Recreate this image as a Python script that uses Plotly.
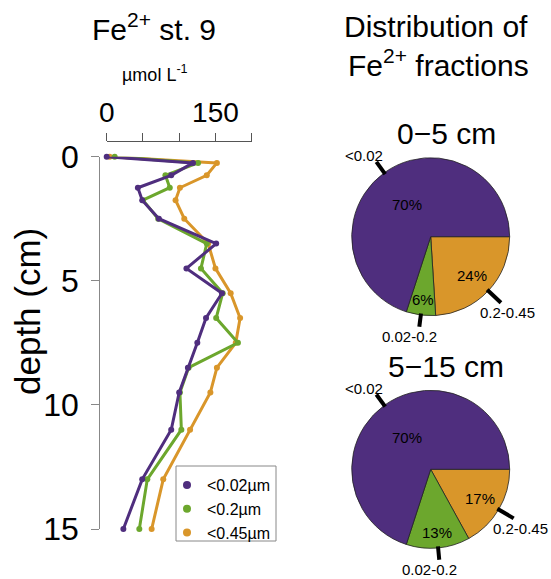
import math
import plotly.graph_objects as go

# ---- Fe2+ depth profile, station 9 -------------------------------------
depth_cm = [0, 0.25, 0.75, 1.25, 1.75, 2.5, 3.5, 4.5, 5.5, 6.5, 7.5, 8.5, 9.5, 11, 13, 15]
fe_lt_002 = [0, 119, 89, 43, 49, 72, 151, 110, 159, 137, 125, 112, 100, 89, 49, 23]
fe_lt_02 = [11, 126, 81, 87, 50, 71, 138, 130, 160, 151, 181, 113, 101, 103, 56, 45]
fe_lt_045 = [4, 152, 138, 101, 95, 107, 140, 150, 171, 184, 178, 152, 143, 115, 78, 62]

series_names = ["<0.02µm", "<0.2µm", "<0.45µm"]

# ---- fraction distribution (percent) ------------------------------------
fraction_labels = ["<0.02", "0.02-0.2", "0.2-0.45"]
pie_0_5 = [70, 6, 24]
pie_5_15 = [70, 13, 17]
pie_titles = ["0\u22125 cm", "5\u221215 cm"]

x_tick_vals = [0, 150]
x_minor_ticks = [50, 100, 200]
y_tick_vals = [0, 5, 10, 15]

PURPLE = "#4F2E7E"
GREEN = "#6CA72D"
ORANGE = "#D9962A"
COLORS = [PURPLE, GREEN, ORANGE]
FONT = "Liberation Sans, Arial, Helvetica, sans-serif"

W, H = 551, 579


def px(x):
    return x / W


def py(y):
    return 1 - y / H


fig = go.Figure()

# profiles: orange first so purple ends on top
for vals, col in [(fe_lt_045, ORANGE), (fe_lt_02, GREEN), (fe_lt_002, PURPLE)]:
    fig.add_trace(go.Scatter(
        x=vals, y=depth_cm, mode="lines+markers",
        line=dict(color=col, width=3), marker=dict(color=col, size=6),
        showlegend=False, cliponaxis=False, xaxis="x", yaxis="y",
    ))

# legend entries (dots only)
for name, col in zip(series_names, COLORS):
    fig.add_trace(go.Scatter(
        x=[None], y=[None], mode="markers", name=name,
        marker=dict(color=col, size=8), xaxis="x", yaxis="y",
    ))

# pies: first fraction runs counter-clockwise from 3 o'clock, so the
# slices are fed in reverse order and drawn clockwise from there
pie_specs = [
    (pie_0_5, (430.7, 236.7)),
    (pie_5_15, (430.7, 469.3)),
]
R = 79
for vals, (cx, cy) in pie_specs:
    fig.add_trace(go.Pie(
        values=vals[::-1], labels=fraction_labels[::-1], sort=False,
        direction="clockwise", rotation=90,
        marker=dict(colors=COLORS[::-1], line=dict(color="#222222", width=0.8)),
        textinfo="none", hoverinfo="label+percent", showlegend=False,
        domain=dict(x=[px(cx - R), px(cx + R)], y=[py(cy + R), py(cy - R)]),
    ))

annotations = []
shapes = []

inner_k = [0.5, 0.8, 0.72]                  # radius of the percentage text
tick_k = [1.17, 1.15, 1.22]                 # outer end of the leader tick
label_off = [(-12, -6), (-10, 10), (7, 10)]  # name offset from tick end (px)
for (vals, (cx, cy)), title in zip(pie_specs, pie_titles):
    total = sum(vals)
    cum = 0
    for i, v in enumerate(vals):
        mid = 2 * math.pi * (cum + v / 2) / total
        cum += v
        ca, sa = math.cos(mid), math.sin(mid)
        # percentage inside slice
        annotations.append(dict(
            x=px(cx + inner_k[i] * R * ca), y=py(cy - inner_k[i] * R * sa),
            text=f"{round(100 * v / total)}%", font=dict(size=15),
        ))
        # leader tick + fraction label
        ex, ey = cx + tick_k[i] * R * ca, cy - tick_k[i] * R * sa
        shapes.append(dict(
            type="line", xref="paper", yref="paper",
            x0=px(cx + 0.98 * R * ca), y0=py(cy - 0.98 * R * sa),
            x1=px(ex), y1=py(ey),
            line=dict(color="black", width=4),
        ))
        dx, dy = label_off[i]
        annotations.append(dict(
            x=px(ex + dx), y=py(ey + dy),
            text=fraction_labels[i], font=dict(size=15),
        ))
    annotations.append(dict(
        x=px(446), y=py(cy - R - 24), text=title, font=dict(size=30),
    ))

# titles and axis labels
annotations += [
    dict(x=px(154), y=py(27), text="Fe<sup>2+</sup> st. 9", font=dict(size=30)),
    dict(x=px(155), y=py(74), text="µmol L<sup>-1</sup>", font=dict(size=18)),
    dict(x=px(436), y=py(27), text="Distribution of", font=dict(size=30)),
    dict(x=px(438), y=py(63), text="Fe<sup>2+</sup> fractions", font=dict(size=30)),
    dict(x=px(27), y=py(312), text="depth (cm)", textangle=-90, font=dict(size=35)),
]
for a in annotations:
    a.update(xref="paper", yref="paper", showarrow=False,
             xanchor="center", yanchor="middle")
    a["font"]["color"] = "black"

# frame around the legend
shapes.append(dict(
    type="rect", xref="paper", yref="paper",
    x0=px(176), x1=px(276), y0=py(541), y1=py(466),
    line=dict(color="#888888", width=1), fillcolor="white", layer="below",
))

fig.update_layout(
    width=W, height=H,
    margin=dict(l=0, r=0, t=0, b=0),
    paper_bgcolor="white", plot_bgcolor="rgba(0,0,0,0)",
    font=dict(family=FONT, color="black"),
    xaxis=dict(
        domain=[px(106.7), px(251.7)], range=[0, 200], side="top",
        anchor="free", position=py(141), automargin=False,
        tickmode="array", tickvals=x_tick_vals,
        ticks="outside", ticklen=8, tickcolor="#555555", tickwidth=1.3,
        minor=dict(tickmode="array", tickvals=x_minor_ticks, ticks="outside",
                   ticklen=8, tickcolor="#555555", tickwidth=1.3, showgrid=False),
        showline=True, linecolor="#555555", linewidth=1.3,
        showgrid=False, zeroline=False, tickfont=dict(size=28),
    ),
    yaxis=dict(
        domain=[py(529), py(156.7)], range=[15, 0],
        anchor="free", position=px(99.3), automargin=False,
        tickmode="array", tickvals=y_tick_vals,
        ticks="outside", ticklen=8, tickcolor="#888888", tickwidth=1.2,
        showline=True, linecolor="#888888", linewidth=1.2,
        showgrid=False, zeroline=False, tickfont=dict(size=32),
        ticklabelstandoff=6,
    ),
    legend=dict(
        x=px(167), y=py(468), xanchor="left", yanchor="top",
        borderwidth=0, bgcolor="rgba(0,0,0,0)",
        font=dict(size=16), itemwidth=30, tracegroupgap=0,
    ),
    annotations=annotations,
    shapes=shapes,
)

fig.write_html("out.html")
